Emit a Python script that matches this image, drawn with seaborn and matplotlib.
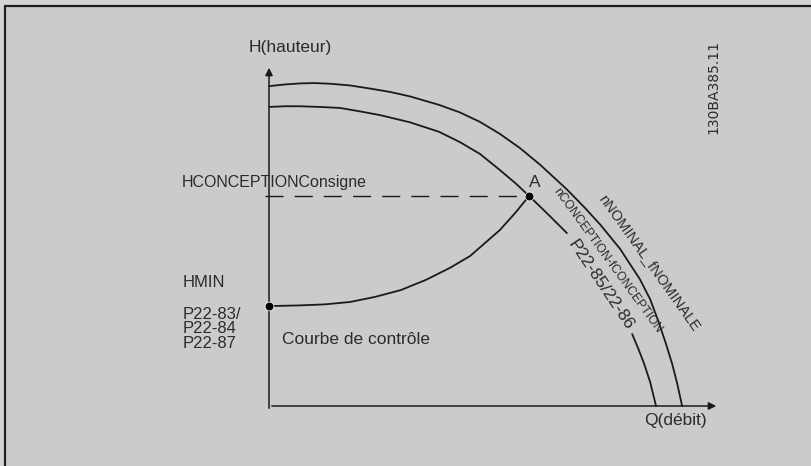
import matplotlib
matplotlib.use('Agg')
import matplotlib.pyplot as plt
import seaborn as sns
import pandas as pd
from matplotlib.patches import Rectangle

# pump curves (Q = flow, H = head, arbitrary units)
q_nominal = [0, 3.6, 6.9, 10.2, 13.6, 18.0, 22.4, 26.9, 31.3, 37.8, 42.4, 46.9, 51.3,
             55.8, 60.2, 66.2, 70.2, 73.6, 78.0, 82.4, 84.7, 86.4, 88.2, 89.6, 90.7, 91.8]
h_nominal = [93.8, 94.3, 94.6, 94.7, 94.5, 94.0, 93.1, 92.1, 90.8, 88.3, 86.1, 83.3, 79.8,
             75.6, 70.8, 63.5, 58.1, 53.2, 46.1, 37.2, 31.3, 25.3, 18.3, 12.3, 6.6, 0]

# design curve is interrupted where its label sits
q_design_top = [0, 3.6, 6.9, 11.3, 15.8, 20.2, 24.7, 31.3, 37.8, 42.4, 46.9, 51.3, 54.7,
                57.8, 62.4, 66.2]
h_design_top = [87.7, 87.9, 87.9, 87.7, 87.4, 86.4, 85.3, 83.2, 80.4, 77.4, 73.9, 69.2, 65.4,
                61.6, 55.7, 50.7]
q_design_low = [80.7, 82.0, 83.3, 84.7, 86.0]
h_design_low = [21.1, 17.0, 12.6, 7.0, 0]

# control curve from HMIN to the design point A
q_control = [0, 6.9, 12.4, 18.0, 23.6, 29.3, 34.9, 40.2, 44.7, 48.0, 51.3, 54.7, 57.8]
h_control = [29.3, 29.5, 29.8, 30.5, 32.0, 34.0, 37.0, 40.5, 44.0, 47.8, 51.6, 56.6, 61.6]

h_min = 29.3
q_design, h_design = 57.8, 61.6

left_labels = ['HCONCEPTIONConsigne', 'HMIN', 'P22-83/\nP22-84\nP22-87']

sns.set_style('white')
plt.rcParams['font.family'] = ['Liberation Sans', 'DejaVu Sans']

INK = '#1a1a1a'
TXT = '#2b2b2b'

fig = plt.figure(figsize=(8.11, 4.66), dpi=100)
fig.patch.set_facecolor('#d4d4d4')
ax = fig.add_axes([0, 0, 1, 1])
ax.set_facecolor('none')
ax.set_xlim(-59.78, 120.44)
ax.set_ylim(-17.6, 119.06)
ax.axis('off')

# grey panel with dark frame (only top/left edges visible)
ax.add_patch(Rectangle((5 / 811, -0.1), 1.2, 1.1 - 6 / 466, transform=ax.transAxes,
                       facecolor='#cbcbcb', edgecolor='#1e1e1e', lw=1.6, clip_on=False, zorder=0))

# axes with arrows
ax.annotate('', xy=(0, 100), xytext=(0, -1.5),
            arrowprops=dict(arrowstyle='-|>', color=INK, lw=1.1, mutation_scale=11))
ax.annotate('', xy=(100, 0), xytext=(0, 0),
            arrowprops=dict(arrowstyle='-|>', color=INK, lw=1.1, mutation_scale=11))

curves = [
    (q_nominal, h_nominal),
    (q_design_top, h_design_top),
    (q_design_low, h_design_low),
    (q_control, h_control),
]
for q, h in curves:
    df = pd.DataFrame({'Q': q, 'H': h})
    sns.lineplot(data=df, x='Q', y='H', sort=False, color=INK, lw=1.3, ax=ax)
ax.set_xlabel('')
ax.set_ylabel('')

# design set-point dashed line
ax.plot([-1, q_design], [h_design, h_design], color=INK, lw=1.0, dashes=(13, 8))

# points
sns.scatterplot(x=[0, q_design], y=[h_min, h_design], color='black', s=40, ax=ax, zorder=5)

# texts
ax.text(4.7, 105.0, 'H(hauteur)', ha='center', va='center', fontsize=12.5, color=TXT)
ax.text(90.4, -4.4, 'Q(débit)', ha='center', va='center', fontsize=12.5, color=TXT)
ax.text(-19.3, 65.4, left_labels[0], ha='left', va='center', fontsize=11.5, color=TXT)
ax.text(-19.3, 36.1, left_labels[1], ha='left', va='center', fontsize=12, color=TXT)
ax.text(-19.3, 22.6, left_labels[2], ha='left', va='center', fontsize=12, color=TXT,
        linespacing=0.95)
ax.text(59.1, 65.4, 'A', ha='center', va='center', fontsize=12.5, color=TXT)
ax.text(2.9, 19.6, 'Courbe de contrôle', ha='left', va='center', fontsize=12.5, color=TXT)
ax.text(98.7, 93.5, '130BA385.11', ha='center', va='center', fontsize=10, color=TXT,
        rotation=90, family='DejaVu Sans')
ax.text(84.4, 41.9, 'nNOMINAL_fNOMINALE', ha='center', va='center', fontsize=10.5,
        color=TXT, rotation=-54.5, rotation_mode='anchor')
ax.text(75.3, 42.8, 'nCONCEPTION-fCONCEPTION', ha='center', va='center', fontsize=8.7,
        color=TXT, rotation=-54, rotation_mode='anchor')
ax.text(73.6, 35.5, 'P22-85/22-86', ha='center', va='center', fontsize=12.5,
        color=TXT, rotation=-56, rotation_mode='anchor')

fig.savefig('out.png', dpi=100, facecolor=fig.get_facecolor())
